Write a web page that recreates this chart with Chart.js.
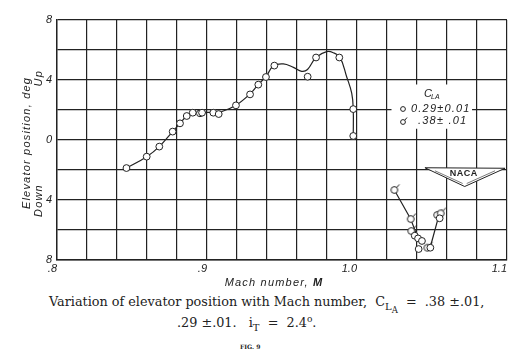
<!DOCTYPE html>
<html>
<head>
<meta charset="utf-8">
<script src="https://cdn.jsdelivr.net/npm/chart.js@4"></script>
<style>
  body { margin: 0; background: #fff; width: 518px; height: 363px; position: relative; overflow: hidden; }
  #wrap { position: absolute; left: 0; top: 0; width: 518px; height: 290px; }
  .cap { position: absolute; font-family: "DejaVu Serif"; color: #222; white-space: nowrap; font-size: 12.8px; }
  .s1 { font-size: 10px; position: relative; top: 4px; }
  .s2 { font-size: 8.5px; position: relative; top: 3px; }
</style>
</head>
<body>
<div id="wrap"><canvas id="elev-chart"></canvas></div>
<div class="cap" style="left:49px;top:294px;">Variation of elevator position with Mach number,&nbsp; C<span class="s1">L<span class="s2">A</span></span>&nbsp; = &nbsp;.38 ±.01,</div>
<div class="cap" style="left:177px;top:314px;">.29 ±.01.&nbsp;&nbsp; i<span class="s1">T</span>&nbsp; = &nbsp;2.4<sup style="font-size:9px">o</sup>.</div>
<div class="cap" style="left:240px;top:343px;font-size:6px;font-weight:bold;">FIG. 9</div>
<script>
// Elevator position vs Mach number
// C_LA = 0.29 points (plain circles)
const mach29 = [0.8463, 0.8598, 0.8682, 0.8771, 0.8820, 0.8865, 0.8905, 0.8953, 0.8967, 0.9042, 0.9078,
  0.9193, 0.9287, 0.9342, 0.9393, 0.9449, 0.9671, 0.9727, 0.9882, 0.9975, 0.9975,
  1.0385, 1.0407, 1.0433, 1.0411, 1.0489, 1.0551];
const elev29 = [-1.87, -1.11, -0.44, 0.56, 1.11, 1.60, 1.82, 1.78, 1.82, 1.82, 1.73,
  2.31, 3.04, 3.69, 4.20, 4.96, 4.22, 5.50, 5.50, 2.06, 0.27,
  -6.38, -6.56, -6.73, -7.27, -7.18, -5.22];
// C_LA = 0.38 points (flagged circles)
const mach38 = [1.0249, 1.0358, 1.0362, 1.0469, 1.0535, 1.0558];
const elev38 = [-3.33, -5.27, -6.07, -7.18, -5.00, -4.89];

// faired curve
const fairMach = [0.8463, 0.8598, 0.8682, 0.8771, 0.8820, 0.8865, 0.8905, 0.8967, 0.9042, 0.9100, 0.9193,
  0.9287, 0.9342, 0.9393, 0.9442, 0.9509, 0.9576, 0.9631, 0.9670, 0.9727, 0.9798, 0.9842, 0.9887,
  0.9931, 0.9965, 0.9975, 0.9975];
const fairElev = [-1.87, -1.11, -0.44, 0.56, 1.11, 1.60, 1.82, 1.84, 1.84, 1.90, 2.31,
  3.07, 3.71, 4.22, 4.93, 5.07, 4.84, 4.58, 4.70, 5.51, 5.89, 5.82, 5.51,
  4.22, 3.11, 2.04, 0.27];
// lines through the supersonic points
const lowMachA = [1.0249, 1.0358, 1.0407, 1.0433];
const lowElevA = [-3.33, -5.27, -6.56, -6.73];
const lowMachB = [1.0491, 1.0542];
const lowElevB = [-7.05, -5.18];

const xTicks = [0.8, 0.9, 1.0, 1.1];
const xTickLabels = ['.8', '.9', '1.0', '1.1'];

const ink = '#222';
const pts = (xs, ys) => xs.map((x, i) => ({ x: x, y: ys[i] }));

function flagPoint(r) {
  const c = document.createElement('canvas');
  c.width = 16; c.height = 16;
  const g = c.getContext('2d');
  g.fillStyle = '#fff'; g.strokeStyle = ink; g.lineWidth = 1;
  g.beginPath(); g.arc(8, 8, r, 0, Math.PI * 2); g.fill(); g.stroke();
  g.beginPath(); g.moveTo(8 + r * 0.7, 8 - r * 0.7); g.lineTo(8 + r * 0.7 + 2.6, 8 - r * 0.7 - 3.2); g.stroke();
  return c;
}

const italic = (size) => ({ family: 'Liberation Sans', style: 'italic', size: size });

const extras = {
  id: 'extras',
  afterDraw(chart) {
    const ctx = chart.ctx;
    const xs = chart.scales.x, ys = chart.scales.y;
    ctx.save();
    ctx.fillStyle = ink;
    ctx.strokeStyle = ink;
    ctx.font = 'italic 11px "Liberation Sans"';
    ctx.letterSpacing = '1.2px';
    ctx.textBaseline = 'middle';

    // y title
    ctx.save();
    ctx.translate(27, 143); ctx.rotate(-Math.PI / 2);
    ctx.textAlign = 'center';
    ctx.fillText('Elevator position, deg', 0, 0);
    ctx.restore();
    ctx.save();
    ctx.translate(39, 217); ctx.rotate(-Math.PI / 2);
    ctx.textAlign = 'left'; ctx.fillText('Down', 0, 0);
    ctx.restore();
    ctx.save();
    ctx.translate(39, 70); ctx.rotate(-Math.PI / 2);
    ctx.textAlign = 'right'; ctx.fillText('Up', 0, 0);
    ctx.restore();

    // x title
    ctx.textAlign = 'left';
    const t1 = 'Mach number, ';
    const w1 = ctx.measureText(t1).width;
    ctx.font = 'bold italic 11px "Liberation Sans"';
    const w2 = ctx.measureText('M').width;
    const x0 = 274 - (w1 + w2) / 2;
    ctx.font = 'italic 11px "Liberation Sans"';
    ctx.fillText(t1, x0, 283);
    ctx.font = 'bold italic 11px "Liberation Sans"';
    ctx.fillText('M', x0 + w1, 283);

    // legend box
    ctx.fillStyle = '#fff';
    ctx.fillRect(xs.getPixelForValue(1.023), ys.getPixelForValue(3.7), xs.getPixelForValue(1.0767) - xs.getPixelForValue(1.023), ys.getPixelForValue(0.75) - ys.getPixelForValue(3.7));
    ctx.fillStyle = ink;
    ctx.font = 'italic 11px "Liberation Sans"';
    ctx.fillText('C', 424, 94);
    ctx.font = 'italic 7px "Liberation Sans"';
    ctx.letterSpacing = '0px';
    ctx.fillText('LA', 431, 97);
    ctx.letterSpacing = '1.2px';
    ctx.font = 'italic 11px "Liberation Sans"';
    ctx.fillText('0.29\u00b10.01', 411, 109);
    ctx.fillText('.38\u00b1 .01', 418, 121);
    ctx.lineWidth = 1;
    ctx.fillStyle = '#fff';
    ctx.beginPath(); ctx.arc(403, 109, 2.4, 0, Math.PI * 2); ctx.fill(); ctx.stroke();
    ctx.beginPath(); ctx.arc(403, 122, 2.4, 0, Math.PI * 2); ctx.fill(); ctx.stroke();
    ctx.beginPath(); ctx.moveTo(404.8, 120.2); ctx.lineTo(407, 117.5); ctx.stroke();

    // NACA wing badge
    const lx = xs.getPixelForValue(1.0453), rx = xs.getPixelForValue(1.0987), mx = xs.getPixelForValue(1.0718);
    const ty = ys.getPixelForValue(-1.85), by = ys.getPixelForValue(-3.1);
    ctx.beginPath();
    ctx.moveTo(lx, ty); ctx.lineTo(rx, ty + 0.5); ctx.lineTo(mx, by); ctx.closePath();
    ctx.fill(); ctx.stroke();
    ctx.beginPath();
    ctx.moveTo(lx + 10, ty + 3); ctx.lineTo(mx - 2, by - 3);
    ctx.moveTo(rx - 10, ty + 3); ctx.lineTo(mx + 2, by - 3);
    ctx.lineWidth = 0.6; ctx.stroke();
    ctx.fillStyle = ink;
    ctx.letterSpacing = '0.5px';
    ctx.font = 'bold 9px "Liberation Sans"';
    ctx.textAlign = 'center';
    ctx.fillText('NACA', mx - 1, ty + 6);
    ctx.restore();
  }
};

const elevChart = new Chart(document.getElementById('elev-chart'), {
  type: 'scatter',
  data: {
    datasets: [
      {
        label: '0.29\u00b10.01', data: pts(mach29, elev29), order: 0,
        pointRadius: 3.4, pointBackgroundColor: '#fff', pointBorderColor: ink, pointBorderWidth: 1
      },
      {
        label: '.38\u00b1.01', data: pts(mach38, elev38), order: 0,
        pointStyle: flagPoint(3.4)
      },
      {
        data: pts(fairMach, fairElev), order: 1, showLine: true, pointRadius: 0,
        borderColor: ink, borderWidth: 1.2, tension: 0.4
      },
      {
        data: pts(lowMachA, lowElevA), order: 1, showLine: true, pointRadius: 0,
        borderColor: ink, borderWidth: 1.2, tension: 0
      },
      {
        data: pts(lowMachB, lowElevB), order: 1, showLine: true, pointRadius: 0,
        borderColor: ink, borderWidth: 1.2, tension: 0
      }
    ]
  },
  options: {
    responsive: true,
    maintainAspectRatio: false,
    animation: { duration: 0 },
    layout: { padding: { top: 20, right: 11, left: 0, bottom: 0 } },
    scales: {
      x: {
        type: 'linear', min: 0.8, max: 1.1,
        ticks: {
          stepSize: 0.02, autoSkip: false, maxRotation: 0, align: 'end', padding: 2,
          color: ink, font: italic(11),
          callback: (v) => {
            const i = xTicks.findIndex(t => Math.abs(t - v) < 1e-6);
            return i >= 0 ? xTickLabels[i] : '';
          }
        },
        grid: { color: ink, lineWidth: 1.2, drawTicks: false },
        border: { color: ink, width: 1.4 },
        afterFit: (s) => { s.height = 30; }
      },
      y: {
        min: -8, max: 8,
        ticks: {
          stepSize: 2, autoSkip: false, padding: 5, color: ink, font: italic(11),
          callback: (v) => (v % 4 === 0 ? String(Math.abs(v)) : '')
        },
        grid: { color: ink, lineWidth: 1.2, drawTicks: false },
        border: { color: ink, width: 1.4 },
        afterFit: (s) => { s.width = 57; }
      }
    },
    plugins: {
      legend: { display: false },
      tooltip: { enabled: false }
    }
  },
  plugins: [extras]
});
</script>
</body>
</html>
